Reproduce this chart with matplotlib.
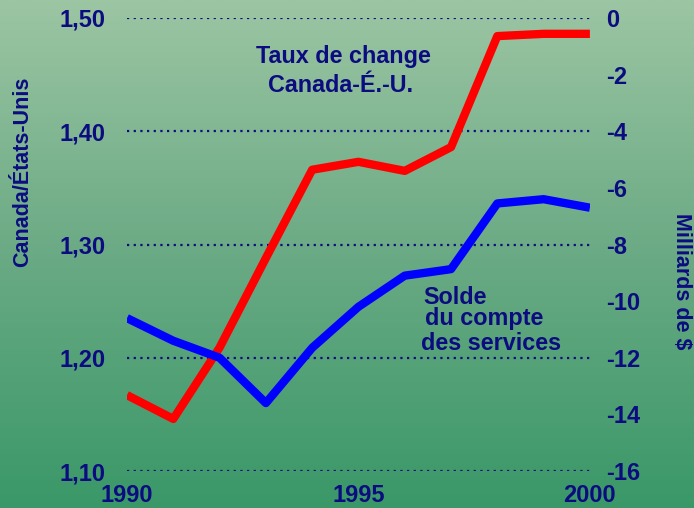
import numpy as np
import matplotlib
matplotlib.use('Agg')
import matplotlib.pyplot as plt
from matplotlib.colors import LinearSegmentedColormap

# data
years = [1990, 1991, 1992, 1993, 1994, 1995, 1996, 1997, 1998, 1999, 2000]
taux = [1.167, 1.146, 1.209, 1.288, 1.366, 1.373, 1.365, 1.386, 1.484, 1.486, 1.486]
solde = [-10.6, -11.4, -12.0, -13.6, -11.65, -10.2, -9.1, -8.87, -6.55, -6.4, -6.7]

left_ticks = [1.10, 1.20, 1.30, 1.40, 1.50]
left_labels = ['1,10', '1,20', '1,30', '1,40', '1,50']
right_ticks = [0, -2, -4, -6, -8, -10, -12, -14, -16]
x_ticks = [1990, 1995, 2000]

navy = '#0c0c80'
plt.rcParams['font.family'] = ['Liberation Sans', 'DejaVu Sans']
plt.rcParams['font.weight'] = 'bold'

W, H = 694, 508
fig = plt.figure(figsize=(W / 100, H / 100), dpi=100)

# background gradient
bg = fig.add_axes([0, 0, 1, 1])
cmap = LinearSegmentedColormap.from_list('g', ['#9cc5a3', '#6aaa84', '#3a9868'])
grad = np.linspace(0, 1, 256).reshape(-1, 1)
bg.imshow(grad, aspect='auto', cmap=cmap, extent=[0, 1, 0, 1])
bg.axis('off')

ax = fig.add_axes([0.183, 0.0728, 0.667, 0.8918])
ax.patch.set_alpha(0)
ax.set_xlim(1990, 2000)
ax.set_ylim(1.10, 1.50)
for s in ax.spines.values():
    s.set_visible(False)
for t in left_ticks:
    ax.axhline(t, color=navy, lw=1.6, ls=(0, (1, 2)), zorder=1)

ax.set_yticks(left_ticks)
ax.set_yticklabels(left_labels)
ax.set_xticks(x_ticks)
ax.set_xticklabels([str(x) for x in x_ticks])
ax.tick_params(axis='y', length=0, pad=15.5, labelsize=17, labelcolor=navy)
ax.tick_params(axis='x', length=0, pad=9, labelsize=17, labelcolor=navy)

ax.plot(years, taux, color='#ff0000', lw=6, solid_capstyle='butt', zorder=3)

ax2 = ax.twinx()
ax2.set_ylim(-16, 0)
for s in ax2.spines.values():
    s.set_visible(False)
ax2.set_yticks(right_ticks)
ax2.set_yticklabels([str(t) for t in right_ticks])
ax2.tick_params(axis='y', length=0, pad=12, labelsize=17, labelcolor=navy)
ax2.plot(years, solde, color='#0000ff', lw=6, solid_capstyle='butt', zorder=3)

# axis titles
fig.text(23 / W, 1 - 172 / H, 'Canada/États-Unis', fontsize=15.5, fontweight='bold',
         color=navy, rotation=90, ha='center', va='center')
fig.text(682 / W, 1 - 281 / H, 'Milliards de $', fontsize=15.5, fontweight='bold',
         color=navy, rotation=-90, ha='center', va='center')

# series labels
kw = dict(fontsize=16.8, fontweight='bold', color=navy, va='center')
fig.text(343 / W, 1 - 57 / H, 'Taux de change', ha='center', **kw)
fig.text(341 / W, 1 - 85 / H, 'Canada-É.-U.', ha='center', **kw)
fig.text(423 / W, 1 - 297 / H, 'Solde', ha='left', **kw)
fig.text(425 / W, 1 - 318 / H, 'du compte', ha='left', **kw)
fig.text(421 / W, 1 - 343 / H, 'des services', ha='left', **kw)

fig.savefig('out.png', dpi=100)
